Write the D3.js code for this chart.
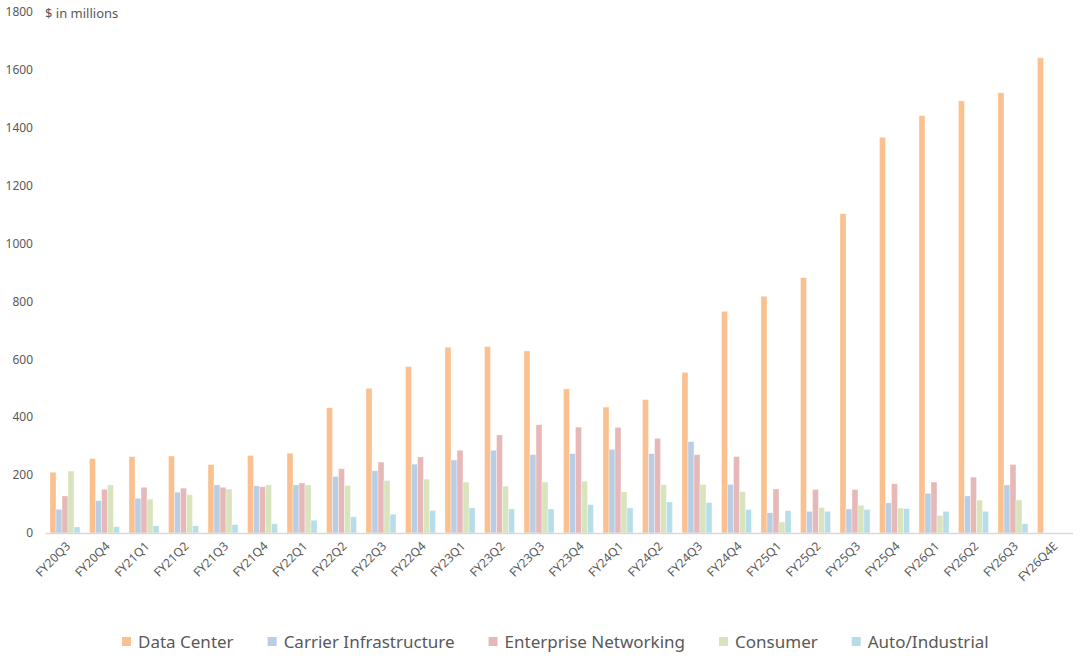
<!DOCTYPE html>
<html>
<head>
<meta charset="utf-8">
<script src="https://cdn.jsdelivr.net/npm/d3@7"></script>
<style>
  body { margin: 0; background: #fff; }
  text { font-family: "Noto Sans", "Open Sans", sans-serif; fill: #595959; }
</style>
</head>
<body>
<svg id="chart" width="1080" height="660"></svg>
<script>
// quarters on the x axis
var quarters = ['FY20Q3','FY20Q4','FY21Q1','FY21Q2','FY21Q3','FY21Q4','FY22Q1','FY22Q2','FY22Q3','FY22Q4',
  'FY23Q1','FY23Q2','FY23Q3','FY23Q4','FY24Q1','FY24Q2','FY24Q3','FY24Q4','FY25Q1','FY25Q2',
  'FY25Q3','FY25Q4','FY26Q1','FY26Q2','FY26Q3','FY26Q4E'];

var dataCenter = [210,257,264,266,236,268,276,433,500,575,642,644,629,498,435,461,555,766,818,882,1103,1367,1442,1493,1521,1642];
var carrier    = [82,112,120,141,166,163,166,195,215,238,252,286,271,274,289,274,316,168,70,75,83,104,137,128,166,null];
var enterprise = [128,151,158,155,158,160,173,222,245,263,286,339,374,366,365,327,271,264,152,150,150,170,176,193,237,null];
var consumer   = [214,166,117,132,152,166,166,164,181,186,176,162,176,179,142,167,168,143,38,88,96,86,61,114,114,null];
var autoInd    = [21,22,25,25,29,32,44,56,65,78,87,83,83,98,87,107,105,81,77,75,81,84,75,75,32,null];

var seriesNames = ['Data Center','Carrier Infrastructure','Enterprise Networking','Consumer','Auto/Industrial'];
var seriesColors = ['#FAC090','#B9CDE5','#E6B9B8','#D7E4BD','#B7DEE8'];
var yTicks = [0,200,400,600,800,1000,1200,1400,1600,1800];

var allSeries = [dataCenter, carrier, enterprise, consumer, autoInd];

var svg = d3.select('#chart');

var x = d3.scaleBand().domain(quarters).range([45, 1072.5]).paddingInner(0.24).paddingOuter(0.127);
var xs = d3.scaleBand().domain(d3.range(seriesNames.length)).range([0, x.bandwidth()]);
var y = d3.scaleLinear().domain([0, 1800]).range([533, 12]);

// y tick labels (no axis line)
svg.append('g').selectAll('text').data(yTicks).enter()
  .append('text')
  .attr('x', 33)
  .attr('y', function (d) { return y(d); })
  .attr('dy', '0.35em')
  .attr('text-anchor', 'end')
  .style('font-size', '12px')
  .text(function (d) { return d; });

svg.append('text')
  .attr('x', 45).attr('y', 13).attr('dy', '0.35em')
  .style('font-size', '13px')
  .text('$ in millions');

// bars
var groups = svg.append('g').selectAll('g').data(quarters).enter()
  .append('g')
  .attr('transform', function (d) { return 'translate(' + x(d) + ',0)'; });

groups.selectAll('rect')
  .data(function (q, i) { return allSeries.map(function (s, k) { return { k: k, v: s[i] }; })
    .filter(function (d) { return d.v != null; }); })
  .enter().append('rect')
  .attr('x', function (d) { return xs(d.k); })
  .attr('width', xs.bandwidth())
  .attr('y', function (d) { return y(d.v); })
  .attr('height', function (d) { return y(0) - y(d.v); })
  .attr('fill', function (d) { return seriesColors[d.k]; })
  .attr('stroke', '#fff')
  .attr('stroke-opacity', 0.6)
  .attr('stroke-width', 0.6);

// x axis
var xAxis = svg.append('g')
  .attr('transform', 'translate(0,533)')
  .call(d3.axisBottom(x).tickSize(0).tickPadding(0));
xAxis.select('.domain').attr('stroke', '#d9d9d9').attr('stroke-width', 1.5);
xAxis.selectAll('text')
  .attr('text-anchor', 'end')
  .attr('dy', null)
  .attr('y', 0)
  .attr('transform', 'translate(6,14) rotate(-45)')
  .style('font-size', '12px')
  .style('font-family', '"Noto Sans", sans-serif')
  .attr('fill', '#595959');

// legend
var legend = svg.append('g').attr('transform', 'translate(122,642)');
var lx = 0;
seriesNames.forEach(function (name, i) {
  var item = legend.append('g').attr('transform', 'translate(' + lx + ',0)');
  item.append('rect').attr('x', 0).attr('y', -5).attr('width', 9).attr('height', 9).attr('fill', seriesColors[i]);
  var t = item.append('text').attr('x', 16).attr('dy', '0.35em').style('font-size', '17px').text(name);
  lx += 16 + t.node().getComputedTextLength() + 34;
});
</script>
</body>
</html>
